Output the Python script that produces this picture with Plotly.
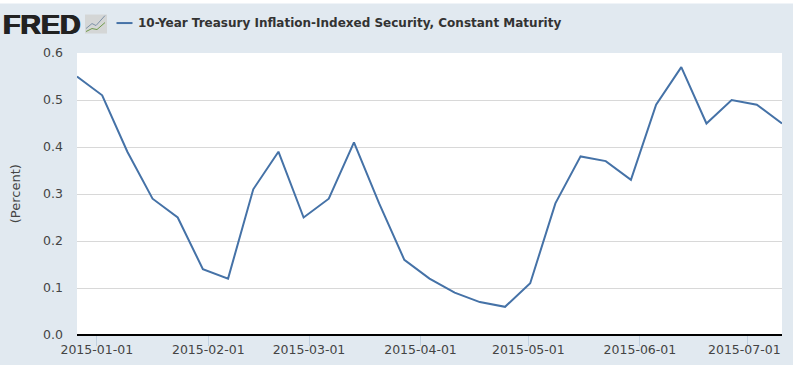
import plotly.graph_objects as go

dates = ["2014-12-26","2015-01-02","2015-01-09","2015-01-16","2015-01-23","2015-01-30",
         "2015-02-06","2015-02-13","2015-02-20","2015-02-27","2015-03-06","2015-03-13",
         "2015-03-20","2015-03-27","2015-04-03","2015-04-10","2015-04-17","2015-04-24",
         "2015-05-01","2015-05-08","2015-05-15","2015-05-22","2015-05-29","2015-06-05",
         "2015-06-12","2015-06-19","2015-06-26","2015-07-03","2015-07-10"]
values = [0.55,0.51,0.39,0.29,0.25,0.14,0.12,0.31,0.39,0.25,0.29,0.41,0.28,0.16,0.12,
          0.09,0.07,0.06,0.11,0.28,0.38,0.37,0.33,0.49,0.57,0.45,0.50,0.49,0.45]
series_name = "10-Year Treasury Inflation-Indexed Security, Constant Maturity"
x_ticks = ["2015-01-01","2015-02-01","2015-03-01","2015-04-01","2015-05-01","2015-06-01","2015-07-01"]
# tick marks sit half a day ahead of the label date in the source chart
x_tickvals = ["2014-12-31T12:00","2015-01-31T12:00","2015-02-28T12:00","2015-03-31T12:00",
              "2015-04-30T12:00","2015-05-31T12:00","2015-06-30T12:00"]
y_ticks = [0.0,0.1,0.2,0.3,0.4,0.5,0.6]

W, H = 793, 365
BG = "#e1e9f0"
TXT = "#444444"
LINE = "#4572a7"
L, R, T, B = 77, 782, 52.5, 335

def cx(x): return (x - L) / (R - L)
def cy(y): return (B - y) / (B - T)

fig = go.Figure(go.Scatter(x=dates, y=values, mode="lines", name=series_name,
                           line=dict(color=LINE, width=2), showlegend=False))

shapes = [
    dict(type="rect", xref="paper", yref="paper", x0=cx(0), x1=cx(W), y0=cy(3), y1=cy(-1),
         fillcolor="white", line_width=0, layer="below"),
    dict(type="rect", xref="paper", yref="paper", x0=cx(85), x1=cx(107), y0=cy(33), y1=cy(14),
         fillcolor="#d4d6d6", line_width=0),
    dict(type="path", xref="paper", yref="paper",
         path=f"M {cx(86)} {cy(28)} L {cx(92)} {cy(23)} L {cx(96)} {cy(25)} L {cx(105)} {cy(15)}",
         line=dict(color="#7d92a8", width=1)),
    dict(type="path", xref="paper", yref="paper",
         path=f"M {cx(86)} {cy(31)} L {cx(92)} {cy(28)} L {cx(97)} {cy(29)} L {cx(105)} {cy(22)}",
         line=dict(color="#6f9a4a", width=1)),
    dict(type="line", xref="paper", yref="paper", x0=cx(116.5), x1=cx(132.5), y0=cy(22.5), y1=cy(22.5),
         line=dict(color=LINE, width=2)),
]

fig.update_layout(
    width=W, height=H, autosize=False,
    margin=dict(l=L, r=W-R, t=T, b=H-B, autoexpand=False),
    paper_bgcolor=BG, plot_bgcolor="white",
    font=dict(family="DejaVu Sans", size=12.5, color=TXT),
    shapes=shapes,
    showlegend=False,
    annotations=[
        dict(text="<b>FRED</b>", xref="paper", yref="paper", x=cx(1), y=cy(23),
             xanchor="left", yanchor="middle", showarrow=False,
             font=dict(family="Liberation Sans", size=28.5, color="#222222",
                       shadow="0.7px 0 0 #222222, -0.7px 0 0 #222222")),
        dict(text="<b>" + series_name + "</b>", xref="paper", yref="paper", x=cx(137), y=cy(22),
             xanchor="left", yanchor="middle", showarrow=False, xshift=-1,
             font=dict(family="DejaVu Sans", size=12, color="#333333")),
        dict(text="(Percent)", xref="paper", yref="paper", x=cx(15), y=cy(194),
             xanchor="center", yanchor="middle", textangle=-90, showarrow=False,
             font=dict(family="DejaVu Sans", size=13, color=TXT)),
        dict(text=x_ticks[-1], xref="paper", yref="paper", x=cx(744), y=cy(350),
             xanchor="center", yanchor="middle", showarrow=False,
             font=dict(family="DejaVu Sans", size=12.5, color=TXT)),
    ],
    xaxis=dict(type="date", range=["2014-12-26","2015-07-10"], tickmode="array",
               tickvals=x_tickvals, ticktext=x_ticks[:-1] + [""], ticks="outside", ticklen=10, tickwidth=1,
               tickcolor="#c0d0e0", showgrid=False, zeroline=False, showline=False,
               automargin=False, ticklabelstandoff=-7, tickfont=dict(size=12.5, color=TXT)),
    yaxis=dict(range=[0,0.6], tickmode="array", tickvals=y_ticks,
               ticktext=[f"{v:.1f}" for v in y_ticks], showgrid=True, gridcolor="#d8d8d8",
               gridwidth=1, zeroline=True, zerolinecolor="#000000", zerolinewidth=2,
               showline=False, ticks="", automargin=False, ticklabelstandoff=13,
               tickfont=dict(size=12.5, color=TXT)),
)
fig.write_html("out.html", config=dict(displayModeBar=False),
               post_script="document.body.style.margin='0';document.body.style.background='#e1e9f0';")
